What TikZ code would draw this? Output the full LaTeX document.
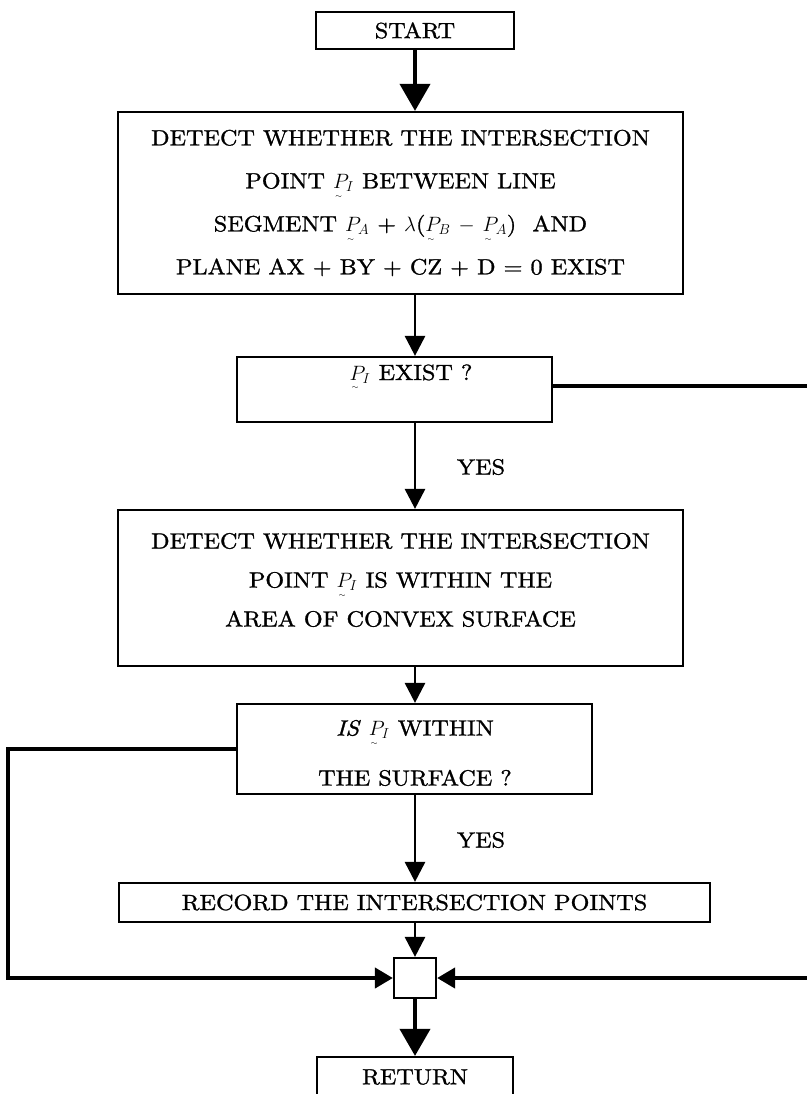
\documentclass[tikz,border=0pt]{standalone}
\usepackage{fontspec}
\setmainfont{lmroman10-regular.otf}[FakeStretch=1.1, FakeBold=1.2, ItalicFont=lmroman10-italic.otf]
\usetikzlibrary{arrows.meta}
\newcommand\vP[1]{\mbox{\rlap{\hspace{0.1em}\raisebox{-0.45em}{\fontsize{8}{8}\selectfont$\sim$}}$P_{#1}$}}
\begin{document}
\begin{tikzpicture}[x=1pt,y=-1pt,
  box/.style={draw, line width=2.2pt, inner sep=0pt},
  txt/.style={inner sep=0pt, align=center, font=\fontsize{22}{43}\selectfont},
  thinarrow/.style={line width=2.8pt, -{Triangle[length=20pt,width=20pt]}},
  bigarrow/.style={line width=4pt, -{Triangle[length=27pt,width=30pt]}},
  sidearrow/.style={line width=4pt, -{Triangle[length=18pt,width=20pt]}}]
\useasboundingbox (0,0) rectangle (806,1094);
\fill[white] (0,0) rectangle (806,1094);

% boxes
\node[box, minimum width=198pt, minimum height=37pt, txt] (start) at (415,30.5) {START};
\node[box, minimum width=565pt, minimum height=182pt] (b1) at (400.5,203) {};
\node[txt] (b1t) at (400.5,203) {DETECT WHETHER THE INTERSECTION\\ POINT \vP{I} BETWEEN LINE\\ SEGMENT \vP{A} + $\lambda$(\vP{B} $-$ \vP{A})\ \ AND\\ PLANE AX + BY + CZ + D = 0 EXIST};
\node[box, minimum width=315pt, minimum height=65pt] (b2) at (394.5,389.5) {};
\node[txt, anchor=base] (b2t) at (411,380) {\vP{I} EXIST ?};
\node[box, minimum width=565pt, minimum height=156pt] (b3) at (400.5,588) {};
\node[txt, font=\fontsize{22}{39}\selectfont] (b3t) at (400.5,580) {DETECT WHETHER THE INTERSECTION\\ POINT \vP{I} IS WITHIN THE\\ AREA OF CONVEX SURFACE};
\node[box, minimum width=355pt, minimum height=90pt] (b4) at (414.5,749) {};
\node[txt, font=\fontsize{22}{50}\selectfont] (b4t) at (415,753) {\textit{IS} \vP{I} WITHIN\\ THE SURFACE ?};
\node[box, minimum width=591pt, minimum height=39pt, txt] (b5) at (414.5,902.5) {RECORD THE INTERSECTION POINTS};
\node[box, minimum width=42pt, minimum height=40pt] (sq) at (415,978) {};
\node[box, minimum width=196pt, minimum height=40pt, txt] (ret) at (415,1077) {RETURN};

% labels
\node[txt] (yes1) at (481,467) {YES};
\node[txt] (yes2) at (481,840) {YES};

% connectors
\draw[bigarrow] (start.south) -- (start.south |- b1.north);
\draw[thinarrow] (start.south |- b1.south) -- (start.south |- b2.north);
\draw[thinarrow] (start.south |- b2.south) -- (start.south |- b3.north);
\draw[thinarrow] (start.south |- b3.south) -- (start.south |- b4.north);
\draw[thinarrow] (start.south |- b4.south) -- (start.south |- b5.north);
\draw[thinarrow] (start.south |- b5.south) -- (sq.north);
\draw[bigarrow] (sq.south) -- (ret.north);
\draw[sidearrow] (b4.west) -- ++(-228,0) |- (sq.west);
\draw[sidearrow] ([yshift=3.5pt]b2.east) -- ++(260,0) |- (sq.east);
\end{tikzpicture}
\end{document}
